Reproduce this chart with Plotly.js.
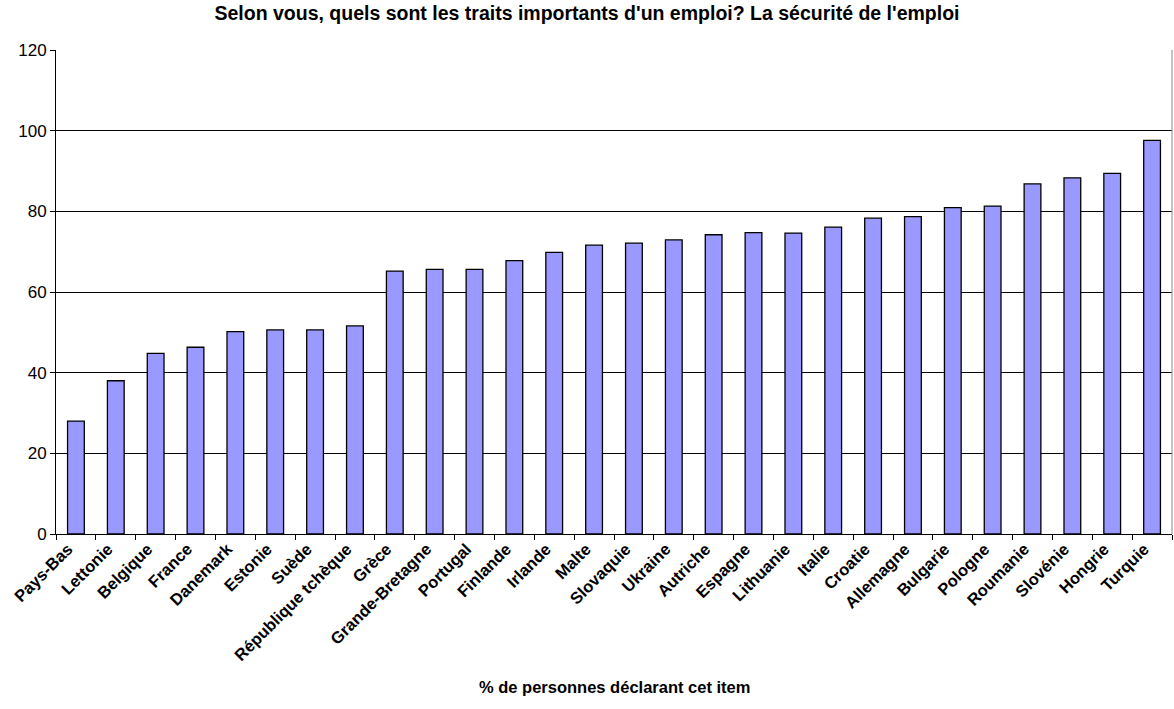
<!DOCTYPE html>
<html>
<head>
<meta charset="utf-8">
<script src="https://cdn.plot.ly/plotly-3.0.1.min.js"></script>
<style>html,body{margin:0;padding:0;background:#fff;}#chart{width:1174px;height:709px;}</style>
</head>
<body>
<div id="chart"></div>
<script>
var countries = ["Pays-Bas","Lettonie","Belgique","France","Danemark","Estonie","Suède","République tchèque","Grèce","Grande-Bretagne","Portugal","Finlande","Irlande","Malte","Slovaquie","Ukraine","Autriche","Espagne","Lithuanie","Italie","Croatie","Allemagne","Bulgarie","Pologne","Roumanie","Slovénie","Hongrie","Turquie"];
var values = [28.0,38.0,44.8,46.3,50.2,50.6,50.6,51.6,65.2,65.6,65.6,67.8,69.8,71.6,72.1,72.9,74.2,74.7,74.6,76.1,78.3,78.7,80.9,81.3,86.8,88.3,89.4,97.6];
var yTicks = [0,20,40,60,80,100,120];
var titleText = "Selon vous, quels sont les traits importants d'un emploi? La sécurité de l'emploi";
var xTitleText = "% de personnes déclarant cet item";

var font = "Liberation Sans, Arial, sans-serif";
var trace = {
  type: "bar",
  x: countries,
  y: values,
  marker: {color: "#9999ff", line: {color: "#000000", width: 1.3}},
  hoverinfo: "x+y"
};
var layout = {
  width: 1174, height: 709,
  margin: {l: 56, r: 2, t: 50, b: 175},
  paper_bgcolor: "#ffffff", plot_bgcolor: "#ffffff",
  bargap: 0.58,
  showlegend: false,
  title: {text: "<b>" + titleText + "</b>", font: {family: font, size: 19.5, color: "#000"}, x: 0.5, xref: "container", y: 0.982, yref: "container", yanchor: "middle"},
  xaxis: {
    type: "category",
    tickangle: -45,
    tickfont: {family: font, size: 16.5, color: "#000", weight: "bold"},
    ticklabelshift: -8,
    ticklabelstandoff: -2,
    showline: true, linecolor: "#000", linewidth: 1,
    ticks: "outside", ticklen: 5, tickcolor: "#000", tickson: "boundaries",
    showgrid: false, mirror: false, automargin: false
  },
  yaxis: {
    range: [0, 120],
    tickvals: yTicks,
    tickfont: {family: font, size: 17, color: "#000"},
    showline: true, linecolor: "#000", linewidth: 1,
    ticks: "outside", ticklen: 5, tickcolor: "#000",
    showgrid: true, gridcolor: "#000", gridwidth: 1,
    zeroline: false, automargin: false
  },
  shapes: [
    {type: "line", xref: "paper", yref: "paper", x0: 1, x1: 1, y0: 0, y1: 1, line: {color: "#888", width: 1}}
  ],
  annotations: [
    {text: "<b>" + xTitleText + "</b>", xref: "paper", yref: "paper", x: 0.5, y: -0.316, showarrow: false, font: {family: font, size: 16.5, color: "#000"}, xanchor: "center", yanchor: "middle"}
  ]
};
Plotly.newPlot("chart", [trace], layout, {displayModeBar: false, staticPlot: true});
</script>
</body>
</html>
